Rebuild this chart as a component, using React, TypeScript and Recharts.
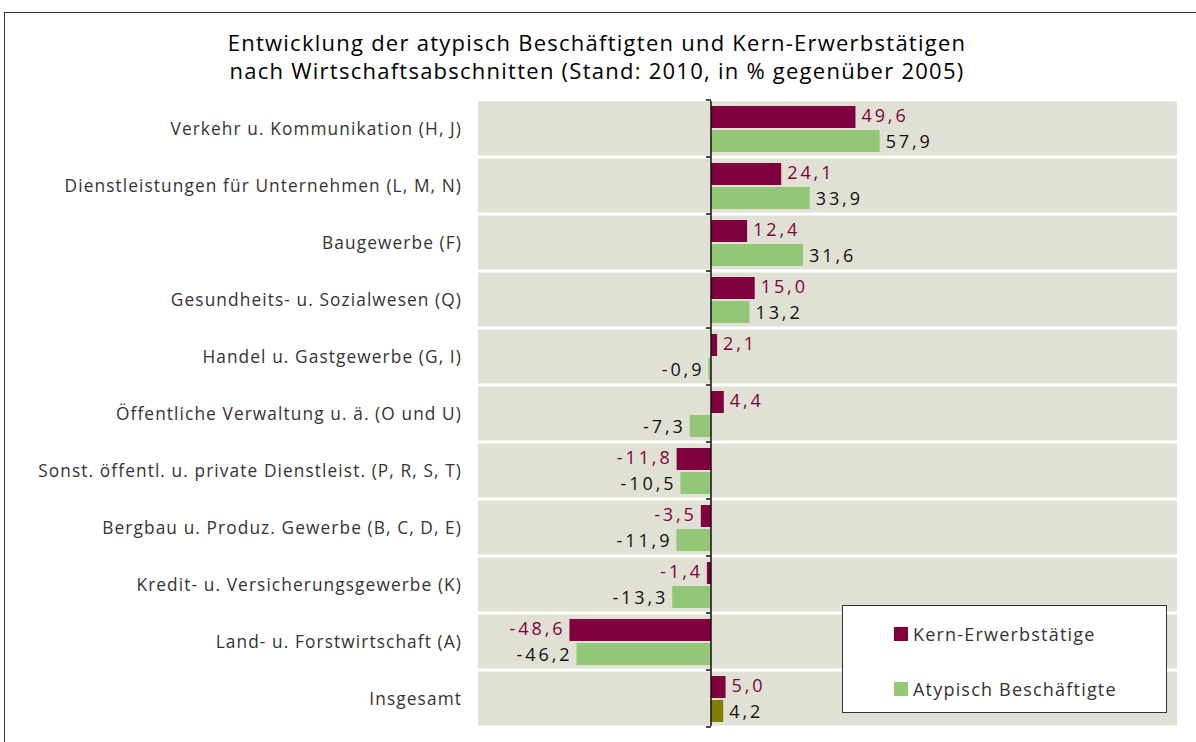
import { Bar, BarChart, CartesianGrid, Cell, LabelList, Legend, ReferenceLine, XAxis, YAxis } from "recharts"

const categories = [
  "Verkehr u. Kommunikation (H, J)",
  "Dienstleistungen für Unternehmen (L, M, N)",
  "Baugewerbe (F)",
  "Gesundheits- u. Sozialwesen (Q)",
  "Handel u. Gastgewerbe (G, I)",
  "Öffentliche Verwaltung u. ä. (O und U)",
  "Sonst. öffentl. u. private Dienstleist. (P, R, S, T)",
  "Bergbau u. Produz. Gewerbe (B, C, D, E)",
  "Kredit- u. Versicherungsgewerbe (K)",
  "Land- u. Forstwirtschaft (A)",
  "Insgesamt",
]
const kernValues = [49.6, 24.1, 12.4, 15.0, 2.1, 4.4, -11.8, -3.5, -1.4, -48.6, 5.0]
const atypValues = [57.9, 33.9, 31.6, 13.2, -0.9, -7.3, -10.5, -11.9, -13.3, -46.2, 4.2]
const seriesNames = ["Kern-Erwerbstätige", "Atypisch Beschäftigte"]

const KERN = "#80003f"
const ATYP = "#93c677"
const TOTAL_ATYP = "#808000"
const BAND = "#e0e1d4"
const FONT = "'Open Sans', 'Liberation Sans', Arial, sans-serif"

const data = categories.map((name, i) => ({ name, kern: kernValues[i], atyp: atypValues[i] }))

const fmt = (v: number) => v.toFixed(1).replace(".", ",")

function valueLabel(color: string, shift: number) {
  return (props: any) => {
    const { x, y, width, height, value } = props
    const v = Number(value)
    const end = v >= 0 ? Math.max(x, x + width) : Math.min(x, x + width)
    const tx = v >= 0 ? end + 6 : end - 4
    return (
      <text
        x={tx}
        y={y + height / 2 + shift}
        dy="0.36em"
        textAnchor={v >= 0 ? "start" : "end"}
        fontSize={18}
        fontFamily={FONT}
        letterSpacing={2.9}
        fill={color}
      >
        {fmt(v)}
      </text>
    )
  }
}

// zero axis with small ticks at the category boundaries
function ZeroAxis(props: any) {
  const { x1, y1, y2 } = props
  const n = categories.length
  const ticks = []
  for (let i = 0; i <= n; i++) {
    const ty = y1 + ((y2 - y1) * i) / n
    ticks.push(`M${x1 - 5},${ty}L${x1},${ty}`)
  }
  return <path d={`M${x1},${y1 - 1}L${x1},${y2 + 1}` + ticks.join("")} stroke="#111" strokeWidth={1.5} fill="none" />
}

function LegendBox() {
  const colors = [KERN, ATYP]
  return (
    <div
      style={{
        width: 325,
        height: 108,
        boxSizing: "border-box",
        border: "1.5px solid #333",
        background: "#fff",
        fontFamily: FONT,
        fontSize: 18,
        letterSpacing: 1.2,
        color: "#333",
        position: "relative",
      }}
    >
      {seriesNames.map((name, i) => (
        <div
          key={name}
          style={{ position: "absolute", left: 51, top: 16 + i * 55, display: "flex", alignItems: "center", height: 24 }}
        >
          <span style={{ width: 14, height: 14, background: colors[i], display: "inline-block", marginRight: 5 }} />
          <span>{name}</span>
        </div>
      ))}
    </div>
  )
}

export default function App() {
  return (
    <div style={{ position: "fixed", left: 0, top: 0, width: 1196, height: 742, overflow: "hidden", background: "#fff" }}>
      <div
        style={{
          position: "absolute",
          left: 4,
          top: 12,
          width: 1210,
          height: 760,
          border: "1.5px solid #333",
        }}
      />
      <div
        style={{
          position: "absolute",
          left: 0,
          top: 28,
          width: 1194,
          textAlign: "center",
          fontFamily: FONT,
          fontSize: 22,
          letterSpacing: 1.25,
          lineHeight: "28px",
          color: "#000",
        }}
      >
        Entwicklung der atypisch Beschäftigten und Kern-Erwerbstätigen
        <br />
        nach Wirtschaftsabschnitten (Stand: 2010, in % gegenüber 2005)
      </div>
      <div style={{ position: "absolute", left: 0, top: 0 }}>
        <BarChart
          width={1196}
          height={742}
          data={data}
          layout="vertical"
          margin={{ top: 100, right: 19, bottom: 15, left: 0 }}
          barSize={22}
          barGap={2}
        >
          <CartesianGrid
            vertical={false}
            stroke="#fff"
            strokeWidth={3}
            horizontalFill={[BAND]}
            fillOpacity={1}
            horizontalCoordinatesGenerator={({ offset }: any) => {
              const n = categories.length
              return Array.from({ length: n + 1 }, (_, i) => offset.top + (offset.height * i) / n)
            }}
          />
          <XAxis type="number" domain={[-80, 160]} hide />
          <YAxis
            type="category"
            dataKey="name"
            width={478}
            tickLine={false}
            axisLine={false}
            tickSize={6}
            tickMargin={10}
            tick={{ fontSize: 17.3, fill: "#333", fontFamily: FONT, letterSpacing: 1.1 }}
            interval={0}
          />
          <Legend
            layout="vertical"
            align="center"
            verticalAlign="middle"
            content={() => <LegendBox />}
            wrapperStyle={{ left: 842, top: 605, width: 325 }}
          />
          <Bar dataKey="kern" name={seriesNames[0]} fill={KERN} isAnimationActive={false}>
            <LabelList dataKey="kern" content={valueLabel(KERN, -1)} />
          </Bar>
          <Bar dataKey="atyp" name={seriesNames[1]} fill={ATYP} isAnimationActive={false}>
            {data.map((d) => (
              <Cell key={d.name} fill={d.name === "Insgesamt" ? TOTAL_ATYP : ATYP} />
            ))}
            <LabelList dataKey="atyp" content={valueLabel("#111", 1)} />
          </Bar>
          <ReferenceLine x={0} stroke="#111" strokeWidth={1.5} shape={ZeroAxis} ifOverflow="visible" />
        </BarChart>
      </div>
    </div>
  )
}
